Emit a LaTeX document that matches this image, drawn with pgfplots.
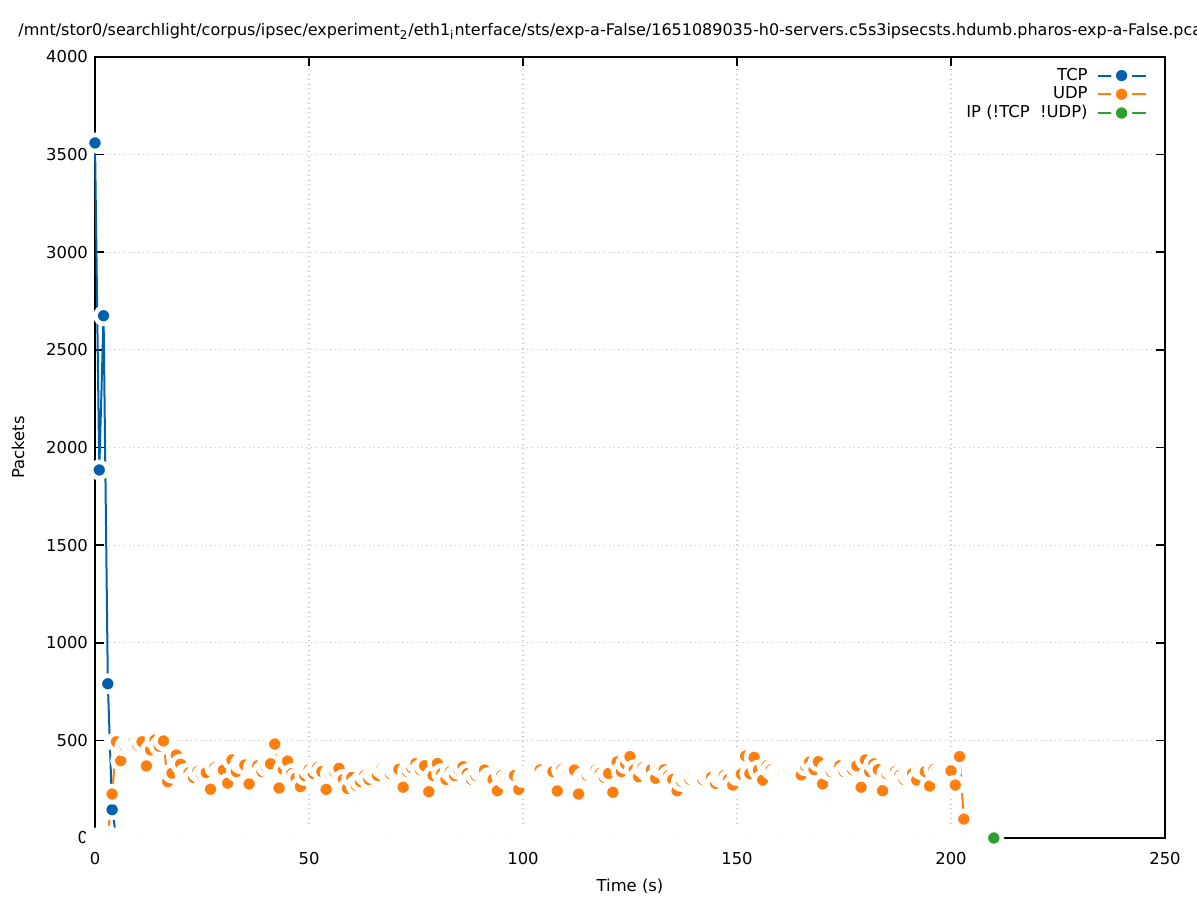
\documentclass[border=0pt]{standalone}
\usepackage{fontspec}
\setmainfont{DejaVu Sans}
\usepackage{pgfplots}
\pgfplotsset{compat=1.18}

\definecolor{tcpblue}{HTML}{0060AD}
\definecolor{udporange}{HTML}{FF7F0E}
\definecolor{ipgreen}{HTML}{2CA02C}

% gnuplot-like linespoints: coloured dot inside a white halo
\pgfplotsset{
  gp/.style={color=#1, line width=1pt, mark=*, mark size=4.05pt,
    mark options={solid, fill=#1, draw=white, line width=2.3pt}},
  % grid behind the data, frame, ticks and labels in front of it
  layers/gpstyle/.define layer set={axis background,axis grid,main,axis ticks,axis lines,axis tick labels,axis descriptions,axis foreground}{},
}

\begin{document}
\begin{tikzpicture}[font=\fontsize{8.2pt}{10pt}\selectfont]
\begin{axis}[
    set layers=gpstyle,
    scale only axis,
    width=535pt, height=390.5pt,
    xmin=0, xmax=250, ymin=0, ymax=4000,
    xtick={0,50,...,250}, ytick={0,500,...,4000},
    /pgf/number format/1000 sep={},
    /pgf/number format/assume math mode=true,
    xticklabel style={yshift=-3.5pt},
    grid=major,
    grid style={dotted, line width=0.6pt, gray!45},
    major tick length=4.5pt,
    tick style={black, line width=0.8pt},
    axis line style={black, line width=0.8pt},
    clip=false,
    xlabel={Time (s)}, ylabel={Packets},
    every axis x label/.style={at={(rel axis cs:0.5,0)}, yshift=-24pt, anchor=center},
    every axis y label/.style={at={(rel axis cs:0,0.5)}, xshift=-38.5pt, rotate=90, anchor=center},
    title={/mnt/stor0/searchlight/corpus/ipsec/experiment\textsubscript{2}/eth1\textsubscript{i}nterface/sts/exp-a-False/1651089035-h0-servers.c5s3ipsecsts.hdumb.pharos-exp-a-False.pcap},
    title style={at={(rel axis cs:0,1)}, anchor=base west, xshift=-38.5pt, yshift=4.5pt,
                 inner sep=0pt, font=\fontsize{8pt}{10pt}\selectfont},
    legend plot pos=right,
    legend cell align=right,
    legend style={draw=none, fill=none, at={(rel axis cs:1,1)}, anchor=north east,
                  xshift=-9pt, yshift=-3.8pt, row sep=-1.2pt, column sep=3pt,
                  inner sep=0pt, nodes={inner sep=1.5pt}},
    legend image code/.code={\draw[mark repeat=2, mark phase=2, #1]
        plot coordinates {(0pt,0pt) (12pt,0pt) (24pt,0pt)};},
]
\coordinate (bl) at (rel axis cs:0,0);
\coordinate (tr) at (rel axis cs:1,1);

\addplot[gp=tcpblue] coordinates {
(0,3560) (1,1885) (2,2675) (3,790) (4,145) (5,0)
};
\addlegendentry{TCP}

\addplot[gp=udporange] coordinates {
(3,10) (4,225) (5,493) (6,396) (7,470) (8,485) (9,490) (10,475) (11,493) (12,369)
(13,451) (14,502) (15,470) (16,497) (17,288) (18,332) (19,425) (20,378) (21,330) (22,335)
(23,310) (24,340) (25,320) (26,335) (27,250) (28,360) (29,340) (30,348) (31,281) (32,400)
(33,340) (34,380) (35,374) (36,277) (37,360) (38,370) (39,340) (40,365) (41,380) (42,481)
(43,256) (44,350) (45,394) (46,330) (47,307) (48,263) (49,320) (50,350) (51,330) (52,360)
(53,340) (54,249) (55,330) (56,340) (57,357) (58,300) (59,254) (60,310) (61,270) (62,290)
(63,320) (64,300) (65,330) (66,320) (67,355) (68,340) (69,330) (70,350) (71,352) (72,260)
(73,340) (74,360) (75,382) (76,350) (77,370) (78,237) (79,320) (80,382) (81,330) (82,300)
(83,340) (84,320) (85,350) (86,365) (87,330) (88,300) (89,320) (90,340) (91,348) (92,310)
(93,300) (94,242) (95,320) (96,300) (97,310) (98,320) (99,249) (100,310) (101,320) (102,330)
(103,340) (104,348) (105,320) (106,330) (107,340) (108,241) (109,350) (110,330) (111,340) (112,348)
(113,225) (114,310) (115,320) (116,340) (117,348) (118,330) (119,310) (120,331) (121,234) (122,390)
(123,340) (124,380) (125,417) (126,350) (127,314) (128,360) (129,340) (130,350) (131,306) (132,360)
(133,350) (134,320) (135,300) (136,242) (137,290) (138,310) (139,300) (140,320) (141,310) (142,300)
(143,320) (144,310) (145,280) (146,310) (147,320) (148,300) (149,271) (150,320) (151,328) (152,420)
(153,330) (154,413) (155,348) (156,297) (157,370) (158,350) (159,330) (160,340) (161,330) (162,340)
(163,330) (164,330) (165,323) (166,370) (167,390) (168,350) (169,391) (170,277) (171,350) (172,340)
(173,360) (174,370) (175,340) (176,360) (177,350) (178,370) (179,260) (180,400) (181,340) (182,380)
(183,350) (184,242) (185,330) (186,350) (187,340) (188,320) (189,300) (190,320) (191,330) (192,297)
(193,350) (194,340) (195,266) (196,350) (197,330) (198,330) (199,340) (200,344) (201,271) (202,417)
(203,97)
};
\addlegendentry{UDP}

\addplot[gp=ipgreen] coordinates {
(0,0) (1,0) (2,0) (3,0) (4,0) (5,0) (6,0) (7,0) (8,0) (9,0)
(10,0) (11,0) (12,0) (13,0) (14,0) (15,0) (16,0) (17,0) (18,0) (19,0)
(20,0) (21,0) (22,0) (23,0) (24,0) (25,0) (26,0) (27,0) (28,0) (29,0)
(30,0) (31,0) (32,0) (33,0) (34,0) (35,0) (36,0) (37,0) (38,0) (39,0)
(40,0) (41,0) (42,0) (43,0) (44,0) (45,0) (46,0) (47,0) (48,0) (49,0)
(50,0) (51,0) (52,0) (53,0) (54,0) (55,0) (56,0) (57,0) (58,0) (59,0)
(60,0) (61,0) (62,0) (63,0) (64,0) (65,0) (66,0) (67,0) (68,0) (69,0)
(70,0) (71,0) (72,0) (73,0) (74,0) (75,0) (76,0) (77,0) (78,0) (79,0)
(80,0) (81,0) (82,0) (83,0) (84,0) (85,0) (86,0) (87,0) (88,0) (89,0)
(90,0) (91,0) (92,0) (93,0) (94,0) (95,0) (96,0) (97,0) (98,0) (99,0)
(100,0) (101,0) (102,0) (103,0) (104,0) (105,0) (106,0) (107,0) (108,0) (109,0)
(110,0) (111,0) (112,0) (113,0) (114,0) (115,0) (116,0) (117,0) (118,0) (119,0)
(120,0) (121,0) (122,0) (123,0) (124,0) (125,0) (126,0) (127,0) (128,0) (129,0)
(130,0) (131,0) (132,0) (133,0) (134,0) (135,0) (136,0) (137,0) (138,0) (139,0)
(140,0) (141,0) (142,0) (143,0) (144,0) (145,0) (146,0) (147,0) (148,0) (149,0)
(150,0) (151,0) (152,0) (153,0) (154,0) (155,0) (156,0) (157,0) (158,0) (159,0)
(160,0) (161,0) (162,0) (163,0) (164,0) (165,0) (166,0) (167,0) (168,0) (169,0)
(170,0) (171,0) (172,0) (173,0) (174,0) (175,0) (176,0) (177,0) (178,0) (179,0)
(180,0) (181,0) (182,0) (183,0) (184,0) (185,0) (186,0) (187,0) (188,0) (189,0)
(190,0) (191,0) (192,0) (193,0) (194,0) (195,0) (196,0) (197,0) (198,0) (199,0)
(200,0) (201,0) (202,0) (203,0) (204,0) (205,0) (206,0) (207,0) (208,0) (209,0)
(210,0)
};
\addlegendentry{IP (!TCP\ \ !UDP)}
\end{axis}
\pgfresetboundingbox
\path[use as bounding box] ([xshift=-47.5pt,yshift=-31pt]bl) rectangle ([xshift=16pt,yshift=28.5pt]tr);
\end{tikzpicture}
\end{document}
